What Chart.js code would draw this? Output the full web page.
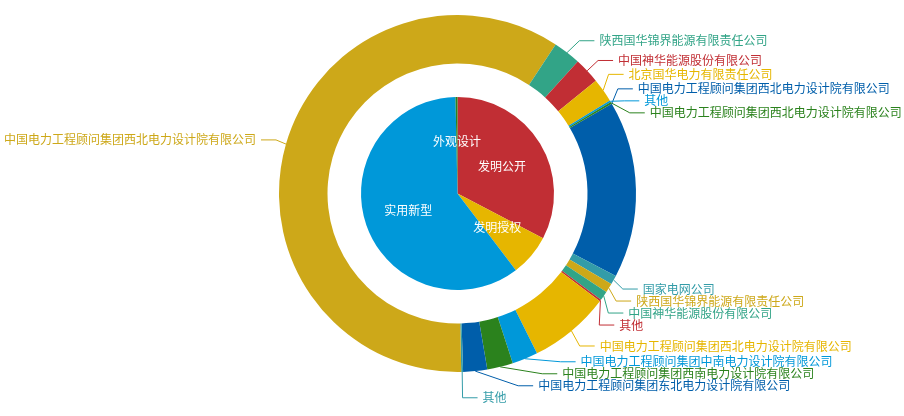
<!DOCTYPE html>
<html>
<head>
<meta charset="utf-8">
<title>专利类型与申请人</title>
<script src="https://cdn.jsdelivr.net/npm/chart.js@4/dist/chart.umd.min.js"></script>
<style>
    html, body { margin: 0; padding: 0; background: #fff; }
    #wrap { width: 904px; height: 416px; position: relative; }
</style>
</head>
<body>
<div id="wrap"><canvas id="chart1"></canvas></div>
<script>
// inner pie: patent types
const typeNames = ['发明公开', '发明授权', '实用新型', '外观设计'];
const typeCounts = [98, 21, 180, 1];

// outer ring: applicants
const applicantNames = [
    '中国电力工程顾问集团西北电力设计院有限公司',
    '国家电网公司',
    '陕西国华锦界能源有限责任公司',
    '中国神华能源股份有限公司',
    '其他',
    '中国电力工程顾问集团西北电力设计院有限公司',
    '中国电力工程顾问集团中南电力设计院有限公司',
    '中国电力工程顾问集团西南电力设计院有限公司',
    '中国电力工程顾问集团东北电力设计院有限公司',
    '其他',
    '中国电力工程顾问集团西北电力设计院有限公司',
    '陕西国华锦界能源有限责任公司',
    '中国神华能源股份有限公司',
    '北京国华电力有限责任公司',
    '其他',
    '中国电力工程顾问集团西北电力设计院有限公司'
];
const applicantCounts = [96, 5, 5, 5, 1, 44, 14, 14, 13, 1, 357, 15, 14, 13, 1, 1];

const palette = ['#c12e34', '#e6b600', '#0098d9', '#2b821d', '#005eaa', '#339ca8', '#cda819', '#32a487'];

const typeColors = typeNames.map((n, i) => palette[i % palette.length]);
const applicantColors = applicantNames.map((n, i) => palette[(i + typeNames.length) % palette.length]);

const FONT = '12px "Noto Sans CJK SC", "Noto Sans", sans-serif';

// labels of the inner pie, white, inside the slices
function drawInnerLabels(chart) {
    const ctx = chart.ctx;
    const meta = chart.getDatasetMeta(2);
    ctx.save();
    ctx.font = FONT;
    ctx.fillStyle = '#fff';
    ctx.textAlign = 'center';
    ctx.textBaseline = 'middle';
    meta.data.forEach((arc, i) => {
        const p = arc.getProps(['x', 'y', 'startAngle', 'endAngle', 'outerRadius'], true);
        const mid = (p.startAngle + p.endAngle) / 2;
        const r = p.outerRadius * 0.54;
        ctx.fillText(typeNames[i], p.x + Math.cos(mid) * r, p.y + Math.sin(mid) * r);
    });
    ctx.restore();
}

// push labels of one side apart (shift down, give half back upwards)
function spreadSide(list, h, top, bottom) {
    list.sort((a, b) => Math.abs(a.y - b.y) < 4 ? a.i - b.i : a.y - b.y);
    function shiftUp(end, delta) {
        for (let j = end; j >= 0; j--) {
            if (list[j].y - delta < top) break;
            list[j].y -= delta;
            if (j > 0 && list[j].y > list[j - 1].y + h) break;
        }
    }
    function shiftDown(start, end, delta) {
        for (let j = start; j < end; j++) {
            if (list[j].y + delta > bottom) break;
            list[j].y += delta;
            if (j > start && j + 1 < end && list[j + 1].y > list[j].y + h) {
                shiftUp(j, delta / 2);
                return;
            }
        }
        shiftUp(end - 1, delta / 2);
    }
    let lastY = top;
    for (let i = 0; i < list.length; i++) {
        const delta = list[i].y - lastY;
        if (delta < 0) shiftDown(i, list.length, -delta);
        lastY = list[i].y + h;
    }
    if (lastY > bottom) shiftUp(list.length - 1, lastY - bottom);
}

// outer labels with leader lines
function drawOuterLabels(chart) {
    const ctx = chart.ctx;
    const meta = chart.getDatasetMeta(0);
    const len1 = 15, len2 = 15, gap = 5, lineH = 12;
    const items = meta.data.map((arc, i) => {
        const p = arc.getProps(['x', 'y', 'startAngle', 'endAngle', 'outerRadius'], true);
        // first slice's label hangs from its leading edge
        const a = i === 0 ? p.startAngle : (p.startAngle + p.endAngle) / 2;
        const R = p.outerRadius;
        return {
            i: i,
            cx: p.x, cy: p.y, R: R,
            x0: p.x + Math.cos(a) * R,
            y0: p.y + Math.sin(a) * R,
            x1: p.x + Math.cos(a) * (R + len1),
            y: p.y + Math.sin(a) * (R + len1),
            dir: Math.cos(a) >= 0 ? 1 : -1
        };
    });

    spreadSide(items.filter(it => it.dir > 0), lineH, 0, chart.height);
    spreadSide(items.filter(it => it.dir < 0), lineH, 0, chart.height);

    ctx.save();
    ctx.font = FONT;
    ctx.textBaseline = 'middle';
    ctx.lineWidth = 1;
    items.forEach(it => {
        const dy = it.y - it.cy;
        const rA = it.R + len1;
        const rC = it.R + len1 + len2;
        let labelX;
        if (Math.abs(dy) < rA) {
            labelX = it.cx + it.dir * Math.sqrt(rC * rC - dy * dy);
        } else {
            labelX = it.x1 + it.dir * (len2 + gap);
        }
        const x2 = labelX - it.dir * gap;
        const x1 = x2 - it.dir * len2;
        const color = applicantColors[it.i];
        ctx.strokeStyle = color;
        ctx.beginPath();
        ctx.moveTo(it.x0, it.y0);
        ctx.lineTo(x1, it.y);
        ctx.lineTo(x2, it.y);
        ctx.stroke();
        ctx.fillStyle = color;
        ctx.textAlign = it.dir > 0 ? 'left' : 'right';
        ctx.fillText(applicantNames[it.i], labelX, it.y);
    });
    ctx.restore();
}

const labelPlugin = {
    id: 'pieLabels',
    afterDatasetsDraw(chart) {
        drawInnerLabels(chart);
        drawOuterLabels(chart);
    }
};

function init() {
    const ctx = document.getElementById('chart1').getContext('2d');
    new Chart(ctx, {
        type: 'doughnut',
        data: {
            labels: applicantNames,
            datasets: [
                {
                    label: '申请人',
                    data: applicantCounts,
                    backgroundColor: applicantColors,
                    borderWidth: 0,
                    rotation: 59.8,
                    weight: 48.5
                },
                {
                    // white gap between pie and ring
                    label: 'gap',
                    data: [1],
                    backgroundColor: 'rgba(0,0,0,0)',
                    borderWidth: 0,
                    weight: 33.5
                },
                {
                    label: '专利类型',
                    data: typeCounts,
                    backgroundColor: typeColors,
                    borderWidth: 0,
                    weight: 96.5
                }
            ]
        },
        options: {
            responsive: true,
            maintainAspectRatio: false,
            animation: false,
            events: [],
            cutout: 0,
            layout: {
                padding: { top: 15, bottom: 44, left: 11, right: 0 }
            },
            plugins: {
                legend: { display: false },
                tooltip: { enabled: false }
            }
        },
        plugins: [labelPlugin]
    });
}

window.onload = init;
</script>
</body>
</html>
